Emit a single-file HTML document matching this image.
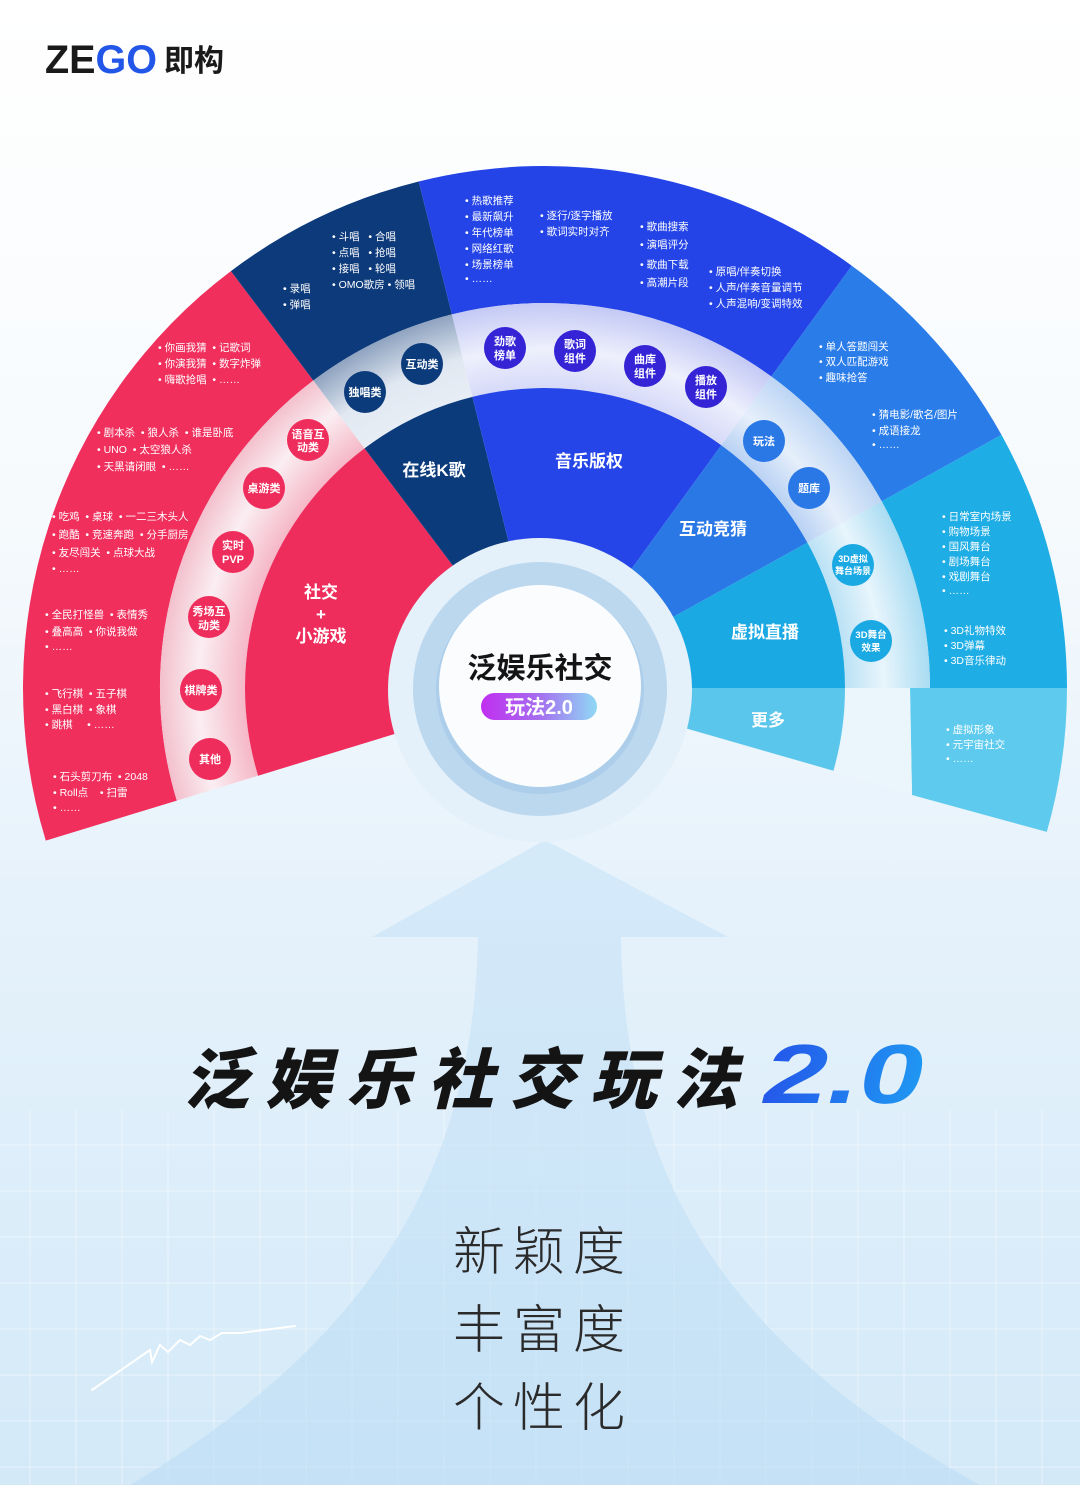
<!DOCTYPE html>
<html><head><meta charset="utf-8"><style>
html,body{margin:0;padding:0;}
body{width:1080px;height:1485px;overflow:hidden;}
svg{display:block;}
.t{font-family:"Liberation Sans","Noto Sans CJK SC",sans-serif;fill:#fff;font-size:10.5px;white-space:pre;}
.c{font-family:"Liberation Sans","Noto Sans CJK SC",sans-serif;fill:#fff;font-size:11px;font-weight:bold;text-anchor:middle;}
.s{font-family:"Liberation Sans","Noto Sans CJK SC",sans-serif;fill:#fff;font-size:17px;font-weight:bold;text-anchor:middle;}
</style></head><body>
<svg width="1080" height="1485" viewBox="0 0 1080 1485" xmlns="http://www.w3.org/2000/svg">
<defs>
<linearGradient id="bg" x1="0" y1="0" x2="0" y2="1">
<stop offset="0" stop-color="#ffffff"/><stop offset="0.35" stop-color="#f6fafd"/><stop offset="0.6" stop-color="#e6f2fb"/><stop offset="1" stop-color="#d3e9f8"/>
</linearGradient>
<linearGradient id="arr" x1="0" y1="0" x2="0" y2="1">
<stop offset="0" stop-color="#c9e4f8"/><stop offset="1" stop-color="#bcdcf4"/>
</linearGradient>
<radialGradient id="gR" gradientUnits="userSpaceOnUse" cx="545" cy="688" r="385"><stop offset="0.77" stop-color="#f5b3c4"/><stop offset="0.9" stop-color="#faeef2"/><stop offset="1" stop-color="#f3c0cd"/></radialGradient>
<radialGradient id="gN" gradientUnits="userSpaceOnUse" cx="545" cy="688" r="385"><stop offset="0.77" stop-color="#e8eef6"/><stop offset="0.88" stop-color="#e1e8f1"/><stop offset="1" stop-color="#8fa3c0"/></radialGradient>
<radialGradient id="gB" gradientUnits="userSpaceOnUse" cx="545" cy="688" r="385"><stop offset="0.77" stop-color="#d4d8f8"/><stop offset="0.88" stop-color="#eef0fc"/><stop offset="1" stop-color="#c3c9f5"/></radialGradient>
<radialGradient id="gM" gradientUnits="userSpaceOnUse" cx="545" cy="688" r="385"><stop offset="0.77" stop-color="#b5cff3"/><stop offset="0.88" stop-color="#e6effb"/><stop offset="1" stop-color="#bcd5f4"/></radialGradient>
<radialGradient id="gC" gradientUnits="userSpaceOnUse" cx="545" cy="688" r="385"><stop offset="0.77" stop-color="#b6e0f4"/><stop offset="0.88" stop-color="#e8f5fc"/><stop offset="1" stop-color="#a9dcf2"/></radialGradient>
<linearGradient id="pill" x1="0" y1="0" x2="1" y2="0"><stop offset="0" stop-color="#c12ef0"/><stop offset="0.5" stop-color="#a56ef0"/><stop offset="1" stop-color="#8fd9f4"/></linearGradient>
<linearGradient id="two" x1="0" y1="0" x2="1" y2="0"><stop offset="0" stop-color="#2457ea"/><stop offset="1" stop-color="#1f98f2"/></linearGradient>
</defs>
<rect width="1080" height="1485" fill="url(#bg)"/>
<g stroke="#ffffff" stroke-opacity="0.45" stroke-width="1">
<path d="M0,1145H1080M0,1191H1080M0,1237H1080M0,1283H1080M0,1329H1080M0,1375H1080M0,1421H1080M0,1467H1080"/>
<path d="M30,1110V1485M76,1110V1485M122,1110V1485M168,1110V1485M214,1110V1485M260,1110V1485M306,1110V1485M352,1110V1485M398,1110V1485M444,1110V1485M490,1110V1485M536,1110V1485M582,1110V1485M628,1110V1485M674,1110V1485M720,1110V1485M766,1110V1485M812,1110V1485M858,1110V1485M904,1110V1485M950,1110V1485M996,1110V1485M1042,1110V1485"/>
</g>
<path d="M545,840 L728,937 L621,937 C624,1150 700,1330 980,1485 L130,1485 C390,1330 474,1150 478,937 L372,937 Z" fill="url(#arr)" opacity="0.6"/>

<path d="M45.8,840.6 A522,522 0 0 1 230.9,271.1 L313.3,380.5 A385,385 0 0 0 176.8,800.6 Z" fill="#f02f5d"/>
<path d="M230.9,271.1 A522,522 0 0 1 418.7,181.5 L451.9,314.4 A385,385 0 0 0 313.3,380.5 Z" fill="#0d3a7b"/>
<path d="M418.7,181.5 A522,522 0 0 1 851.8,265.7 L771.3,376.5 A385,385 0 0 0 451.9,314.4 Z" fill="#2444e7"/>
<path d="M851.8,265.7 A522,522 0 0 1 1001.5,434.9 L881.7,501.4 A385,385 0 0 0 771.3,376.5 Z" fill="#2a7de9"/>
<path d="M1001.5,434.9 A522,522 0 0 1 1067,688 L930,688 A385,385 0 0 0 881.7,501.4 Z" fill="#1eade5"/>
<path d="M1067,688 A522,522 0 0 1 1046.8,831.9 L912,795 L910,688 Z" fill="#5ecbee"/>

<path d="M176.8,800.6 A385,385 0 0 1 313.3,380.5 L364.5,448.4 A300,300 0 0 0 258.1,775.7 Z" fill="url(#gR)"/>
<path d="M313.3,380.5 A385,385 0 0 1 451.9,314.4 L472.4,396.9 A300,300 0 0 0 364.5,448.4 Z" fill="url(#gN)"/>
<path d="M451.9,314.4 A385,385 0 0 1 771.3,376.5 L721.3,445.3 A300,300 0 0 0 472.4,396.9 Z" fill="url(#gB)"/>
<path d="M771.3,376.5 A385,385 0 0 1 881.7,501.4 L807.4,542.6 A300,300 0 0 0 721.3,445.3 Z" fill="url(#gM)"/>
<path d="M881.7,501.4 A385,385 0 0 1 930,688 L845,688 A300,300 0 0 0 807.4,542.6 Z" fill="url(#gC)"/>
<path d="M910,688 L912,795 L833.4,770.7 A300,300 0 0 0 845,688 Z" fill="#eaf5fc"/>

<path d="M258.1,775.7 A300,300 0 0 1 364.5,448.4 L466.8,584.2 A130,130 0 0 0 420.7,726 Z" fill="#ef2d5c"/>
<path d="M364.5,448.4 A300,300 0 0 1 472.4,396.9 L513.6,561.9 A130,130 0 0 0 466.8,584.2 Z" fill="#0c3b7c"/>
<path d="M472.4,396.9 A300,300 0 0 1 721.3,445.3 L621.4,582.8 A130,130 0 0 0 513.6,561.9 Z" fill="#2545e8"/>
<path d="M721.3,445.3 A300,300 0 0 1 807.4,542.6 L658.7,625 A130,130 0 0 0 621.4,582.8 Z" fill="#2a78e6"/>
<path d="M807.4,542.6 A300,300 0 0 1 845,688 L675,688 A130,130 0 0 0 658.7,625 Z" fill="#1ba9e3"/>
<path d="M845,688 A300,300 0 0 1 833.4,770.7 L670,723.8 A130,130 0 0 0 675,688 Z" fill="#5ac6ec"/>

<circle cx="540" cy="690" r="152" fill="#e4f0fa"/>
<circle cx="540" cy="689" r="127" fill="#bcd8ef"/>
<circle cx="540" cy="690" r="104" fill="#9cc3e6" opacity="0.5"/>
<circle cx="540" cy="686" r="101" fill="#fafcfe"/>
<text x="540" y="678" text-anchor="middle" font-family="Liberation Sans,'Noto Sans CJK SC',sans-serif" font-size="29" font-weight="bold" fill="#141414">泛娱乐社交</text>
<rect x="481" y="693" width="116" height="27" rx="13.5" fill="url(#pill)"/>
<text x="539" y="714" text-anchor="middle" font-family="Liberation Sans,'Noto Sans CJK SC',sans-serif" font-size="20" font-weight="bold" fill="#fff">玩法2.0</text>

<text class="s" x="321" y="598">社交</text>
<text class="s" x="321" y="620">+</text>
<text class="s" x="321" y="642">小游戏</text>
<text class="s" x="434" y="476">在线K歌</text>
<text class="s" x="589" y="467">音乐版权</text>
<text class="s" x="713" y="535">互动竞猜</text>
<text class="s" x="765" y="638">虚拟直播</text>
<text class="s" x="768" y="726">更多</text>

<g fill="#ef2d5c">
<circle cx="308" cy="440" r="21"/><circle cx="264" cy="488" r="21"/><circle cx="233" cy="552" r="21"/>
<circle cx="209" cy="617" r="21"/><circle cx="201" cy="690" r="21"/><circle cx="210" cy="759" r="21"/>
</g>
<g fill="#0c3b7c"><circle cx="365" cy="392" r="21"/><circle cx="422" cy="364" r="21"/></g>
<g fill="#3424d6"><circle cx="505" cy="348" r="21"/><circle cx="575" cy="351" r="21"/><circle cx="645" cy="366" r="21"/><circle cx="706" cy="387" r="21"/></g>
<g fill="#2a78e6"><circle cx="764" cy="441" r="21"/><circle cx="809" cy="488" r="21"/></g>
<g fill="#1ba9e3"><circle cx="853" cy="565" r="21"/><circle cx="871" cy="641" r="21"/></g>
<text class="c" x="308" y="438">语音互</text><text class="c" x="308" y="451">动类</text>
<text class="c" x="264" y="492">桌游类</text>
<text class="c" x="233" y="549">实时</text><text class="c" x="233" y="563">PVP</text>
<text class="c" x="209" y="615">秀场互</text><text class="c" x="209" y="629">动类</text>
<text class="c" x="201" y="694">棋牌类</text>
<text class="c" x="210" y="763">其他</text>
<text class="c" x="365" y="396">独唱类</text>
<text class="c" x="422" y="368">互动类</text>
<text class="c" x="505" y="345">劲歌</text><text class="c" x="505" y="359">榜单</text>
<text class="c" x="575" y="348">歌词</text><text class="c" x="575" y="362">组件</text>
<text class="c" x="645" y="363">曲库</text><text class="c" x="645" y="377">组件</text>
<text class="c" x="706" y="384">播放</text><text class="c" x="706" y="398">组件</text>
<text class="c" x="764" y="445">玩法</text>
<text class="c" x="809" y="492">题库</text>
<text class="c" x="853" y="562" style="font-size:9px">3D虚拟</text><text class="c" x="853" y="574" style="font-size:9px">舞台场景</text>
<text class="c" x="871" y="638" style="font-size:9.5px">3D舞台</text><text class="c" x="871" y="651" style="font-size:9.5px">效果</text>

<text class="t" x="283" y="292">• 录唱</text>
<text class="t" x="283" y="308">• 弹唱</text>
<text class="t" x="332" y="240">• 斗唱   • 合唱</text>
<text class="t" x="332" y="256">• 点唱   • 抢唱</text>
<text class="t" x="332" y="272">• 接唱   • 轮唱</text>
<text class="t" x="332" y="288">• OMO歌房 • 领唱</text>

<text class="t" x="465" y="204">• 热歌推荐</text>
<text class="t" x="465" y="220">• 最新飙升</text>
<text class="t" x="465" y="236">• 年代榜单</text>
<text class="t" x="465" y="252">• 网络红歌</text>
<text class="t" x="465" y="268">• 场景榜单</text>
<text class="t" x="465" y="282">• ……</text>
<text class="t" x="540" y="219">• 逐行/逐字播放</text>
<text class="t" x="540" y="235">• 歌词实时对齐</text>
<text class="t" x="640" y="230">• 歌曲搜索</text>
<text class="t" x="640" y="248">• 演唱评分</text>
<text class="t" x="640" y="268">• 歌曲下载</text>
<text class="t" x="640" y="286">• 高潮片段</text>
<text class="t" x="709" y="275">• 原唱/伴奏切换</text>
<text class="t" x="709" y="291">• 人声/伴奏音量调节</text>
<text class="t" x="709" y="307">• 人声混响/变调特效</text>

<text class="t" x="819" y="350">• 单人答题闯关</text>
<text class="t" x="819" y="365">• 双人匹配游戏</text>
<text class="t" x="819" y="381">• 趣味抢答</text>
<text class="t" x="872" y="418">• 猜电影/歌名/图片</text>
<text class="t" x="872" y="434">• 成语接龙</text>
<text class="t" x="872" y="448">• ……</text>

<text class="t" x="942" y="520">• 日常室内场景</text>
<text class="t" x="942" y="535">• 购物场景</text>
<text class="t" x="942" y="550">• 国风舞台</text>
<text class="t" x="942" y="565">• 剧场舞台</text>
<text class="t" x="942" y="580">• 戏剧舞台</text>
<text class="t" x="942" y="594">• ……</text>
<text class="t" x="944" y="634">• 3D礼物特效</text>
<text class="t" x="944" y="649">• 3D弹幕</text>
<text class="t" x="944" y="664">• 3D音乐律动</text>
<text class="t" x="946" y="733">• 虚拟形象</text>
<text class="t" x="946" y="748">• 元宇宙社交</text>
<text class="t" x="946" y="762">• ……</text>

<text class="t" x="158" y="351">• 你画我猜  • 记歌词</text>
<text class="t" x="158" y="367">• 你演我猜  • 数字炸弹</text>
<text class="t" x="158" y="383">• 嗨歌抢唱  • ……</text>
<text class="t" x="97" y="436">• 剧本杀  • 狼人杀  • 谁是卧底</text>
<text class="t" x="97" y="453">• UNO  • 太空狼人杀</text>
<text class="t" x="97" y="470">• 天黑请闭眼  • ……</text>
<text class="t" x="52" y="520">• 吃鸡  • 桌球  • 一二三木头人</text>
<text class="t" x="52" y="538">• 跑酷  • 竞速奔跑  • 分手厨房</text>
<text class="t" x="52" y="556">• 友尽闯关  • 点球大战</text>
<text class="t" x="52" y="572">• ……</text>
<text class="t" x="45" y="618">• 全民打怪兽  • 表情秀</text>
<text class="t" x="45" y="635">• 叠高高  • 你说我做</text>
<text class="t" x="45" y="650">• ……</text>
<text class="t" x="45" y="697">• 飞行棋  • 五子棋</text>
<text class="t" x="45" y="713">• 黑白棋  • 象棋</text>
<text class="t" x="45" y="728">• 跳棋     • ……</text>
<text class="t" x="53" y="780">• 石头剪刀布  • 2048</text>
<text class="t" x="53" y="796">• Roll点    • 扫雷</text>
<text class="t" x="53" y="811">• ……</text>

<text x="45" y="73" font-family="Liberation Sans,sans-serif" font-size="40" font-weight="bold" fill="#1a1a1a" textLength="112" lengthAdjust="spacingAndGlyphs">ZE<tspan fill="#2256e8">GO</tspan></text>
<text x="164" y="71" font-family="'Noto Sans CJK SC',sans-serif" font-size="30" font-weight="bold" fill="#1a1a1a">即构</text>

<g transform="translate(183,1103) skewX(-14)">
<text x="0" y="0" font-family="'Noto Sans CJK SC',sans-serif" font-size="66" font-weight="900" fill="#141414" textLength="555" lengthAdjust="spacing">泛娱乐社交玩法</text>
<text x="575" y="0" font-family="Liberation Sans,sans-serif" font-size="84" font-weight="bold" fill="url(#two)" textLength="160" lengthAdjust="spacingAndGlyphs">2.0</text>
</g>

<g font-family="'Noto Sans CJK SC',sans-serif" font-size="52" font-weight="300" fill="#2a2a2a">
<text x="453" y="1270" textLength="172">新颖度</text>
<text x="453" y="1348" textLength="172">丰富度</text>
<text x="453" y="1426" textLength="172">个性化</text>
</g>
<path d="M92,1390 L150,1350 L152,1362 L160,1345 L168,1352 L180,1340 L190,1345 L200,1336 L210,1340 L222,1333 L240,1333 L295,1326" fill="none" stroke="#ffffff" stroke-width="2" stroke-linecap="round"/>
</svg>
</body></html>
